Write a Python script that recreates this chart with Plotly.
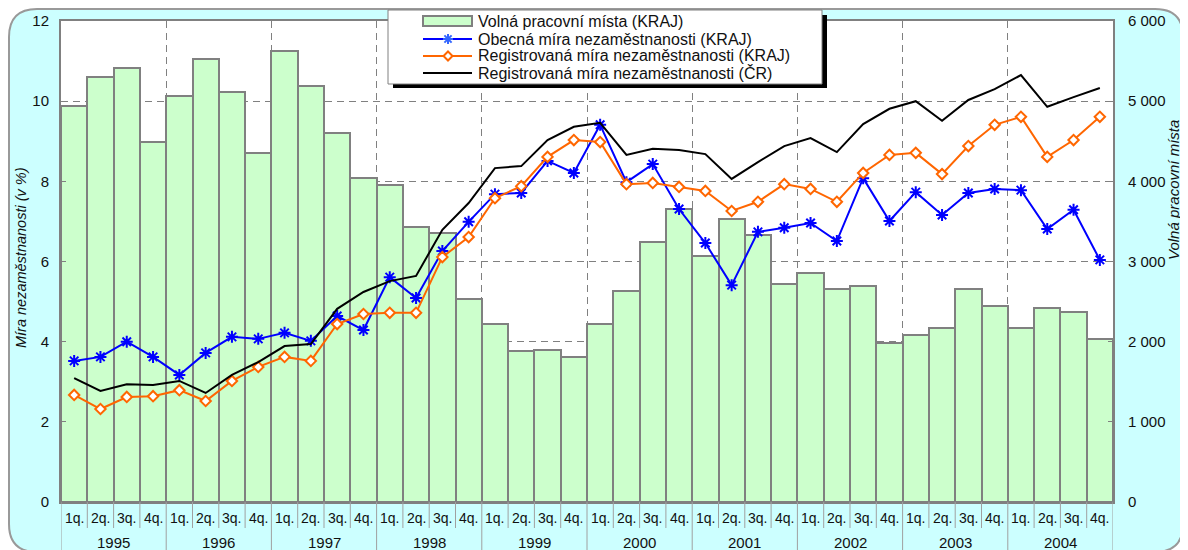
import plotly.graph_objects as go

# ---------------- data ----------------
years = ["1995", "1996", "1997", "1998", "1999", "2000", "2001", "2002", "2003", "2004"]
quarters = ["1q.", "2q.", "3q.", "4q."]

volna_mista = [4940, 5300, 5410, 4490, 5065, 5530, 5115, 4355,
               5625, 5190, 4600, 4045, 3955, 3430, 3355, 2535,
               2220, 1885, 1895, 1810, 2220, 2630, 3245, 3655,
               3070, 3530, 3330, 2720, 2860, 2660, 2695, 1985,
               2085, 2170, 2660, 2445, 2170, 2420, 2370, 2035]

obecna_kraj = [3.52, 3.62, 4.00, 3.62, 3.17, 3.72, 4.12, 4.07,
               4.22, 4.02, 4.64, 4.29, 5.61, 5.09, 6.26, 6.99,
               7.68, 7.71, 8.51, 8.21, 9.41, 7.98, 8.43, 7.31,
               6.46, 5.41, 6.74, 6.84, 6.96, 6.51, 8.08, 7.01,
               7.73, 7.16, 7.71, 7.81, 7.78, 6.81, 7.29, 6.04]

registrovana_kraj = [2.67, 2.32, 2.62, 2.64, 2.79, 2.52, 3.02, 3.37,
                     3.62, 3.52, 4.44, 4.69, 4.72, 4.72, 6.11, 6.61,
                     7.58, 7.88, 8.61, 9.03, 8.98, 7.93, 7.96, 7.86,
                     7.76, 7.26, 7.49, 7.93, 7.81, 7.49, 8.21, 8.66,
                     8.71, 8.18, 8.88, 9.41, 9.61, 8.61, 9.03, 9.61]

registrovana_cr = [3.09, 2.77, 2.94, 2.92, 3.02, 2.72, 3.17, 3.49,
                   3.89, 3.94, 4.82, 5.24, 5.51, 5.64, 6.79, 7.46,
                   8.33, 8.38, 9.03, 9.36, 9.46, 8.66, 8.81, 8.78,
                   8.68, 8.06, 8.48, 8.88, 9.08, 8.73, 9.43, 9.81,
                   10.00, 9.51, 10.03, 10.30, 10.65, 9.86, 10.10, 10.33]

names = ["Volná pracovní místa (KRAJ)",
         "Obecná míra nezaměstnanosti (KRAJ)",
         "Registrovaná míra nezaměstnanosti (KRAJ)",
         "Registrovaná míra nezaměstnanosti (ČR)"]

left_title = "Míra nezaměstnanosti (v %)"
right_title = "Volná pracovní místa"

# ---------------- colours ----------------
BAR_FILL = "#CCFFCC"
GRAY = "#808080"
BLUE_LINE, BLUE_MARK = "#0000FF", "#3366FF"
ORANGE = "#FF6600"
BLACK = "#000000"
CYAN = "#CCFFFF"
FONT = "Arial, Liberation Sans, sans-serif"
TXT = "#111111"

# ---------------- geometry helpers (layout only) ----------------
# The page body adds an 8px offset, so the figure is made 8px smaller and
# positions are given in screen pixels and converted to paper units.
OFF = 8
W, H = 1188 - OFF, 550 - OFF
PL, PR, PT, PB = 61, 1113, 21, 502           # plot area in screen pixels
ML, MT = PL - OFF, PT - OFF
MR, MB = W - (PR - OFF), H - (PB - OFF)
PW, PH = PR - PL, PB - PT


def px(x):
    return (x - PL) / PW


def py(y):
    return (PB - y) / PH


n = len(volna_mista)
xs = list(range(n))

fig = go.Figure()

fig.add_trace(go.Bar(
    x=xs, y=volna_mista, name=names[0], yaxis="y", width=1.0,
    marker=dict(color=BAR_FILL, line=dict(color=GRAY, width=2)),
))
fig.add_trace(go.Scatter(
    x=xs, y=obecna_kraj, name=names[1], yaxis="y2", mode="lines+markers",
    line=dict(color=BLUE_LINE, width=2),
    marker=dict(symbol="asterisk-open", size=10, line=dict(color=BLUE_MARK, width=2)),
))
fig.add_trace(go.Scatter(
    x=xs, y=registrovana_kraj, name=names[2], yaxis="y2", mode="lines+markers",
    line=dict(color=ORANGE, width=2),
    marker=dict(symbol="diamond", size=8, color="white", line=dict(color=ORANGE, width=2)),
))
fig.add_trace(go.Scatter(
    x=xs, y=registrovana_cr, name=names[3], yaxis="y2", mode="lines",
    line=dict(color=BLACK, width=2),
))

shapes = []
annotations = []

# rounded cyan background frame
x0, x1 = px(OFF + 1), px(1183)
y0, y1 = py(552), py(OFF + 1)
rx, ry = 28 / PW, 28 / PH
path = (f"M{x0 + rx},{y1} L{x1 - rx},{y1} Q{x1},{y1} {x1},{y1 - ry} "
        f"L{x1},{y0 + ry} Q{x1},{y0} {x1 - rx},{y0} "
        f"L{x0 + rx},{y0} Q{x0},{y0} {x0},{y0 + ry} "
        f"L{x0},{y1 - ry} Q{x0},{y1} {x0 + rx},{y1} Z")
shapes.append(dict(type="path", xref="paper", yref="paper", path=path,
                   fillcolor=CYAN, line=dict(color="#999999", width=2), layer="below"))
# white plotting area
shapes.append(dict(type="rect", xref="x domain", yref="y domain", x0=0, x1=1, y0=0, y1=1,
                   fillcolor="white", line=dict(width=0), layer="below"))

# separators in the category label area
for i in range(n + 1):
    is_year = (i % 4 == 0)
    shapes.append(dict(type="line", xref="x", yref="paper",
                       x0=i - 0.5, x1=i - 0.5, y0=0, y1=py(552 if is_year else 528),
                       line=dict(color="#A0A0A0", width=1)))

# category labels
for i in xs:
    annotations.append(dict(x=i, y=py(518), xref="x", yref="paper", text=quarters[i % 4],
                            showarrow=False, font=dict(family=FONT, size=14, color=TXT),
                            xanchor="center", yanchor="middle"))
for k, yr in enumerate(years):
    annotations.append(dict(x=4 * k + 1.5, y=py(542), xref="x", yref="paper", text=yr,
                            showarrow=False, font=dict(family=FONT, size=15, color=TXT),
                            xanchor="center", yanchor="middle"))

# axis titles
annotations.append(dict(x=px(21), y=py(258), xref="paper", yref="paper", text=left_title,
                        textangle=-90, showarrow=False,
                        font=dict(family=FONT, size=14.5, color=TXT, style="italic"),
                        xanchor="center", yanchor="middle"))
annotations.append(dict(x=px(1174), y=py(190), xref="paper", yref="paper", text=right_title,
                        textangle=-90, showarrow=False,
                        font=dict(family=FONT, size=15, color=TXT, style="italic"),
                        xanchor="center", yanchor="middle"))

# ---------------- legend box (drawn as layout decoration) ----------------
LX0, LX1, LY0, LY1 = 388, 822, 10, 84
shapes.append(dict(type="rect", xref="paper", yref="paper",
                   x0=px(LX0 + 5), x1=px(LX1 + 5), y0=py(LY1 + 4), y1=py(LY0 + 5),
                   fillcolor="black", line=dict(width=0), layer="above"))
shapes.append(dict(type="rect", xref="paper", yref="paper",
                   x0=px(LX0), x1=px(LX1), y0=py(LY1), y1=py(LY0),
                   fillcolor="white", line=dict(color=GRAY, width=1), layer="above"))
row_y = [21, 39, 56, 73]
SX0, SX1, SXC = 423, 472, 448
# bar swatch
shapes.append(dict(type="rect", xref="paper", yref="paper",
                   x0=px(SX0), x1=px(SX1), y0=py(row_y[0] + 5), y1=py(row_y[0] - 5),
                   fillcolor=BAR_FILL, line=dict(color=GRAY, width=2), layer="above"))
# line swatches
for r, col in zip(row_y[1:], [BLUE_LINE, ORANGE, BLACK]):
    shapes.append(dict(type="line", xref="paper", yref="paper",
                       x0=px(SX0), x1=px(SX1), y0=py(r), y1=py(r),
                       line=dict(color=col, width=2), layer="above"))
# asterisk marker swatch
a = 5
for dx, dy in [(0, a), (a, 0), (a * 0.72, a * 0.72), (a * 0.72, -a * 0.72)]:
    shapes.append(dict(type="line", xref="paper", yref="paper",
                       x0=px(SXC - dx), x1=px(SXC + dx),
                       y0=py(row_y[1] - dy), y1=py(row_y[1] + dy),
                       line=dict(color=BLUE_MARK, width=2), layer="above"))
# diamond marker swatch
d = 4.5
cy = row_y[2]
dpath = (f"M{px(SXC)},{py(cy - d)} L{px(SXC + d)},{py(cy)} "
         f"L{px(SXC)},{py(cy + d)} L{px(SXC - d)},{py(cy)} Z")
shapes.append(dict(type="path", xref="paper", yref="paper", path=dpath,
                   fillcolor="white", line=dict(color=ORANGE, width=2), layer="above"))
for r, nm in zip(row_y, names):
    annotations.append(dict(x=px(476), y=py(r), xref="paper", yref="paper", text=nm,
                            showarrow=False, font=dict(family=FONT, size=16, color=TXT),
                            xanchor="left", yanchor="middle"))

fig.update_layout(
    width=W, height=H,
    margin=dict(l=ML, r=MR, t=MT, b=MB, pad=0, autoexpand=False),
    paper_bgcolor="white", plot_bgcolor="white",
    font=dict(family=FONT, size=15, color=TXT),
    separators=", ",
    bargap=0,
    showlegend=False,
    xaxis=dict(range=[-0.5, n - 0.5], tickvals=[4 * k - 0.5 for k in range(1, len(years))],
               showticklabels=False, ticks="", showgrid=True, griddash="7px,5px",
               gridcolor=GRAY, gridwidth=1, showline=True, linecolor=GRAY, linewidth=2,
               mirror=True, zeroline=False, fixedrange=True, automargin=False),
    yaxis=dict(range=[0, 6000], tickvals=[0, 1000, 2000, 3000, 4000, 5000, 6000],
               tickformat=",d", side="right", showgrid=True, griddash="7px,5px",
               gridcolor=GRAY, gridwidth=1, showline=True, linecolor=GRAY, linewidth=2,
               mirror=True, ticks="inside", ticklen=5, tickcolor=GRAY,
               ticklabelstandoff=10, zeroline=False, automargin=False,
               tickfont=dict(family=FONT, size=15, color=TXT)),
    yaxis2=dict(range=[0, 12], tickvals=[0, 2, 4, 6, 8, 10, 12], side="left",
                overlaying="y", showgrid=False, showline=False, ticks="inside",
                ticklen=5, tickcolor=GRAY, ticklabelstandoff=11, zeroline=False,
                automargin=False,
                tickfont=dict(family=FONT, size=15, color=TXT)),
    shapes=shapes,
    annotations=annotations,
)

fig.write_html("out.html")
